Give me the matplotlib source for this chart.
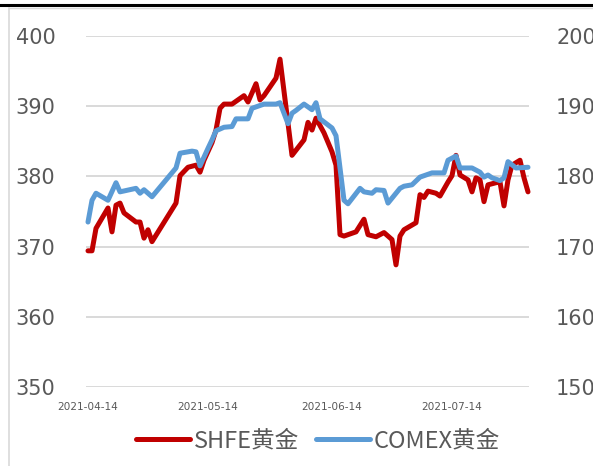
import pandas as pd
import matplotlib.pyplot as plt
import matplotlib.dates as mdates
from matplotlib.lines import Line2D

# 上期所黄金 (元/克) - 左轴
shfe_dates = ['2021-04-14', '2021-04-15', '2021-04-16', '2021-04-19', '2021-04-20', '2021-04-21',
              '2021-04-22', '2021-04-23', '2021-04-26', '2021-04-27', '2021-04-28', '2021-04-29',
              '2021-04-30', '2021-05-06', '2021-05-07', '2021-05-09', '2021-05-11', '2021-05-12',
              '2021-05-13', '2021-05-15', '2021-05-16', '2021-05-17', '2021-05-18', '2021-05-20',
              '2021-05-23', '2021-05-24', '2021-05-26', '2021-05-27', '2021-05-28', '2021-05-31',
              '2021-06-01', '2021-06-04', '2021-06-07', '2021-06-08', '2021-06-09', '2021-06-10',
              '2021-06-12', '2021-06-14', '2021-06-15', '2021-06-16', '2021-06-17', '2021-06-20',
              '2021-06-22', '2021-06-23', '2021-06-25', '2021-06-27', '2021-06-29', '2021-06-30',
              '2021-07-01', '2021-07-02', '2021-07-05', '2021-07-06', '2021-07-07', '2021-07-08',
              '2021-07-10', '2021-07-11', '2021-07-13', '2021-07-14', '2021-07-15', '2021-07-16',
              '2021-07-18', '2021-07-19', '2021-07-20', '2021-07-21', '2021-07-22', '2021-07-23',
              '2021-07-25', '2021-07-26', '2021-07-27', '2021-07-28', '2021-07-29', '2021-07-31',
              '2021-08-01', '2021-08-02']
shfe_vals = [369.4, 369.4, 372.6, 375.5, 372.1, 375.9, 376.2, 374.8, 373.5, 373.5,
             371.2, 372.4, 370.7, 376.2, 380.1, 381.3, 381.6, 380.6, 382.3, 384.8,
             386.6, 389.7, 390.3, 390.3, 391.5, 390.6, 393.2, 390.9, 391.5, 394.0,
             396.7, 383.0, 385.2, 387.7, 386.6, 388.3, 386.2, 383.5, 381.6, 371.7,
             371.5, 372.1, 373.9, 371.7, 371.4, 372.0, 371.0, 367.4, 371.5, 372.4,
             373.4, 377.4, 377.0, 377.9, 377.6, 377.2, 379.2, 380.1, 383.0, 380.2,
             379.5, 377.8, 379.8, 379.5, 376.4, 378.8, 379.1, 379.2, 375.8, 379.5,
             381.6, 382.3, 379.8, 377.8]

# COMEX黄金 (美元/盎司) - 右轴
comex_dates = ['2021-04-14', '2021-04-15', '2021-04-16', '2021-04-19', '2021-04-21', '2021-04-22',
               '2021-04-26', '2021-04-27', '2021-04-28', '2021-04-30', '2021-05-06', '2021-05-07',
               '2021-05-10', '2021-05-11', '2021-05-12', '2021-05-14', '2021-05-15', '2021-05-16',
               '2021-05-18', '2021-05-20', '2021-05-21', '2021-05-24', '2021-05-25', '2021-05-26',
               '2021-05-28', '2021-05-31', '2021-06-01', '2021-06-03', '2021-06-04', '2021-06-05',
               '2021-06-07', '2021-06-09', '2021-06-10', '2021-06-11', '2021-06-14', '2021-06-15',
               '2021-06-17', '2021-06-18', '2021-06-21', '2021-06-22', '2021-06-24', '2021-06-25',
               '2021-06-27', '2021-06-28', '2021-07-01', '2021-07-02', '2021-07-04', '2021-07-06',
               '2021-07-09', '2021-07-12', '2021-07-13', '2021-07-15', '2021-07-16', '2021-07-19',
               '2021-07-21', '2021-07-22', '2021-07-23', '2021-07-24', '2021-07-26', '2021-07-27',
               '2021-07-28', '2021-07-30', '2021-08-02']
comex_vals = [1735, 1766, 1776, 1766, 1791, 1778, 1783, 1776, 1781, 1771,
              1812, 1833, 1836, 1835, 1815, 1840, 1852, 1865, 1870, 1871,
              1882, 1882, 1897, 1899, 1903, 1903, 1905, 1875, 1890, 1894,
              1903, 1895, 1905, 1882, 1869, 1858, 1766, 1761, 1783, 1778,
              1776, 1781, 1780, 1762, 1783, 1786, 1788, 1799, 1805, 1805,
              1823, 1829, 1812, 1812, 1806, 1799, 1802, 1798, 1794, 1798,
              1821, 1812, 1813]

x_ticks = ['2021-04-14', '2021-05-14', '2021-06-14', '2021-07-14']
left_ticks = [350, 360, 370, 380, 390, 400]
right_ticks = [1500, 1600, 1700, 1800, 1900, 2000]

red = '#C00000'
blue = '#5B9BD5'
gray_txt = '#595959'

df_shfe = pd.DataFrame({'fecha': pd.to_datetime(shfe_dates), 'valor': shfe_vals})
df_comex = pd.DataFrame({'fecha': pd.to_datetime(comex_dates), 'valor': comex_vals})

fig = plt.figure(figsize=(5.93, 4.66), dpi=100)
ax = fig.add_axes([86 / 593, 1 - 387 / 466, (529 - 86) / 593, (387 - 36) / 466])
ax2 = ax.twinx()

# lineas de la grilla
for v in left_ticks:
    ax.axhline(v, color='#D9D9D9', lw=1.4, zorder=0)

ax.plot(df_shfe['fecha'], df_shfe['valor'], color=red, lw=3.6, solid_joinstyle='round',
        solid_capstyle='round', clip_on=False)
ax2.plot(df_comex['fecha'], df_comex['valor'], color=blue, lw=3.6, solid_joinstyle='round',
         solid_capstyle='round', clip_on=False)

start = pd.Timestamp('2021-04-14')
ax.set_xlim(start - pd.Timedelta(hours=12), pd.Timestamp('2021-08-02') + pd.Timedelta(hours=6))
ax.set_ylim(350, 400)
ax2.set_ylim(1500, 2000)

ax.set_xticks(pd.to_datetime(x_ticks))
ax.xaxis.set_major_formatter(mdates.DateFormatter('%Y-%m-%d'))
ax.tick_params(axis='x', length=0, pad=10.5, labelsize=7.6, labelcolor=gray_txt)
ax.set_yticks(left_ticks)
ax.tick_params(axis='y', length=0, pad=22, labelsize=15, labelcolor=gray_txt)
ax2.set_yticks(right_ticks)
ax2.tick_params(axis='y', length=0, pad=19.5, labelsize=15, labelcolor=gray_txt)

for a in (ax, ax2):
    for s in a.spines.values():
        s.set_visible(False)

# bordes del recuadro
fig.add_artist(Line2D([0, 1], [1 - 5 / 466, 1 - 5 / 466], color='black', lw=2.2))
fig.add_artist(Line2D([0.0155, 1], [1 - 8 / 466, 1 - 8 / 466], color='#D9D9D9', lw=1))
fig.add_artist(Line2D([0.0155, 0.0155], [0, 1 - 8 / 466], color='#D9D9D9', lw=1.2))

handles = [Line2D([], [], color=red, lw=3.6, solid_capstyle='round'),
           Line2D([], [], color=blue, lw=3.6, solid_capstyle='round')]
leg = fig.legend(handles, ['SHFE黄金', 'COMEX黄金'], loc='center', ncol=2,
                 bbox_to_anchor=(318 / 593, 1 - 441 / 466), frameon=False,
                 handlelength=2.3, handletextpad=0.15, columnspacing=0.7,
                 prop={'family': ['Noto Sans CJK SC', 'DejaVu Sans'], 'size': 17})
for t in leg.get_texts():
    t.set_color(gray_txt)

plt.savefig('out.png', dpi=100)
plt.close()
